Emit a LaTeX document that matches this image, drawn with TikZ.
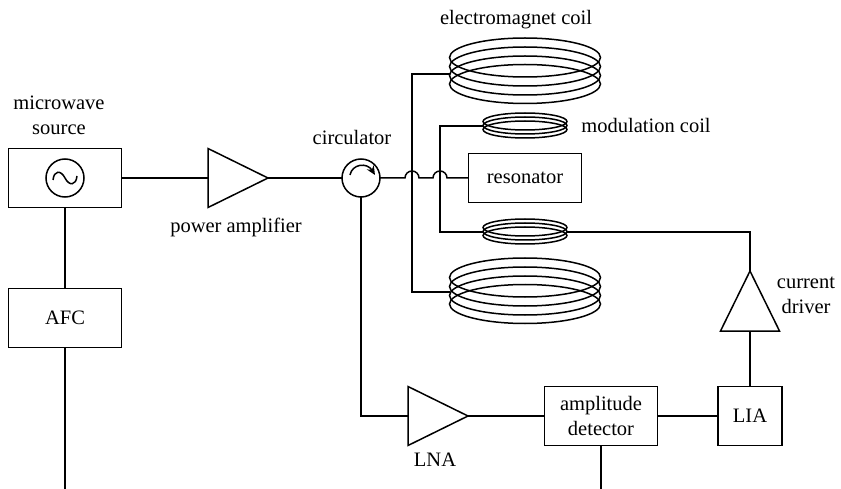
\documentclass[tikz,border=0pt]{standalone}
\usepackage{fontspec}
\setmainfont{Liberation Serif}
\usetikzlibrary{shapes.geometric,arrows.meta}
\tikzset{
blk/.style={draw,minimum width=113pt,minimum height=59pt,inner sep=0pt,outer sep=0pt,align=center},
amp/.style={draw,isosceles triangle,isosceles triangle stretches,minimum height=60pt,minimum width=59pt,inner sep=0pt,outer sep=0pt,anchor=apex},
lbl/.style={align=center,inner sep=0pt}
}
\begin{document}
\begin{tikzpicture}[x=1pt,y=-1pt,line width=1.5pt,font=\fontsize{20.5}{25}\selectfont]
\useasboundingbox (0,0) rectangle (841,489);

\node [blk] (source) at (65,178) {};
\node [draw,circle,minimum size=38pt,inner sep=0pt,outer sep=0pt] (osc) at (65,178) {};
\draw (53,180) .. controls (54,170) and (61,170) .. (65,178) .. controls (69,186) and (76,186) .. (77,176);
\node [blk] (afc) at (65,318) {AFC};
\node [amp] (power) at (268,178) {};
\node [draw,circle,minimum size=38pt,inner sep=0pt,outer sep=0pt] (circ) at (361,178) {};
\draw [-{Stealth[length=9pt,width=8pt]}] (350,175) .. controls (352,164) and (367,162) .. (375,175);
\node [blk,minimum height=49pt] (reson) at (525,178) {resonator};
\node [amp] (lna) at (468,416) {};
\node [blk] (detect) at (601,416) {amplitude\\detector};
\node [blk,minimum width=64pt] (lia) at (750,416) {LIA};
\node [amp,shape border rotate=90] (driver) at (750,271) {};

% coils
\foreach \y in {57.5,66.5,75.5,84}
{
\draw (525,\y) ellipse (75.5 and 19.5);
}
\foreach \y in {277.5,286.5,295.5,304}
{
\draw (525,\y) ellipse (75.5 and 19.5);
}
\foreach \y in {121.5,125.5,129.5}
{
\draw (525,\y) ellipse (42 and 8.5);
}
\foreach \y in {227.5,231.5,235.5}
{
\draw (525,\y) ellipse (42 and 8.5);
}

\coordinate (emtop) at (449.5,74);
\coordinate (embot) at (449.5,292);
\coordinate (modtop) at (483,126);
\coordinate (modbot) at (483,232);
\coordinate (modout) at (567,232);
\coordinate (em) at (412,74);
\coordinate (emb) at (412,292);
\coordinate (mod) at (440,126);
\coordinate (modb) at (440,232);
\coordinate (turn) at (750,232);
\coordinate (hopa) at (405,178);
\coordinate (hopb) at (433,178);
\coordinate (lnain) at (361,416);
\coordinate (afcout) at (65,489);
\coordinate (detout) at (601,489);

\draw (source.east) -- (power.west);
\draw (power.apex) -- (circ.west);
\draw (circ.east) -- (hopa) arc (180:360:7) -- (hopb) arc (180:360:7) -- (reson.west);
\draw (source.south) -- (afc.north);
\draw (afc.south) -- (afcout);
\draw (emtop) -- (em) -- (emb) -- (embot);
\draw (modtop) -- (mod) -- (modb) -- (modbot);
\draw (modout) -- (turn) -- (driver.apex);
\draw (driver.south) -- (lia.north);
\draw (circ.south) -- (lnain) -- (lna.west);
\draw (lna.apex) -- (detect.west);
\draw (detect.east) -- (lia.west);
\draw (detect.south) -- (detout);

\node [lbl] (lmicro) at (59,115) {microwave\\source};
\node [lbl] (lcirc) at (352,137) {circulator};
\node [lbl] (lpower) at (236,227) {power amplifier};
\node [lbl] (lem) at (516,20) {electromagnet coil};
\node [lbl] (lmod) at (646,125) {modulation coil};
\node [lbl] (ldriver) at (806,295) {current\\driver};
\node [lbl] (llna) at (435,460) {LNA};
\end{tikzpicture}
\end{document}
